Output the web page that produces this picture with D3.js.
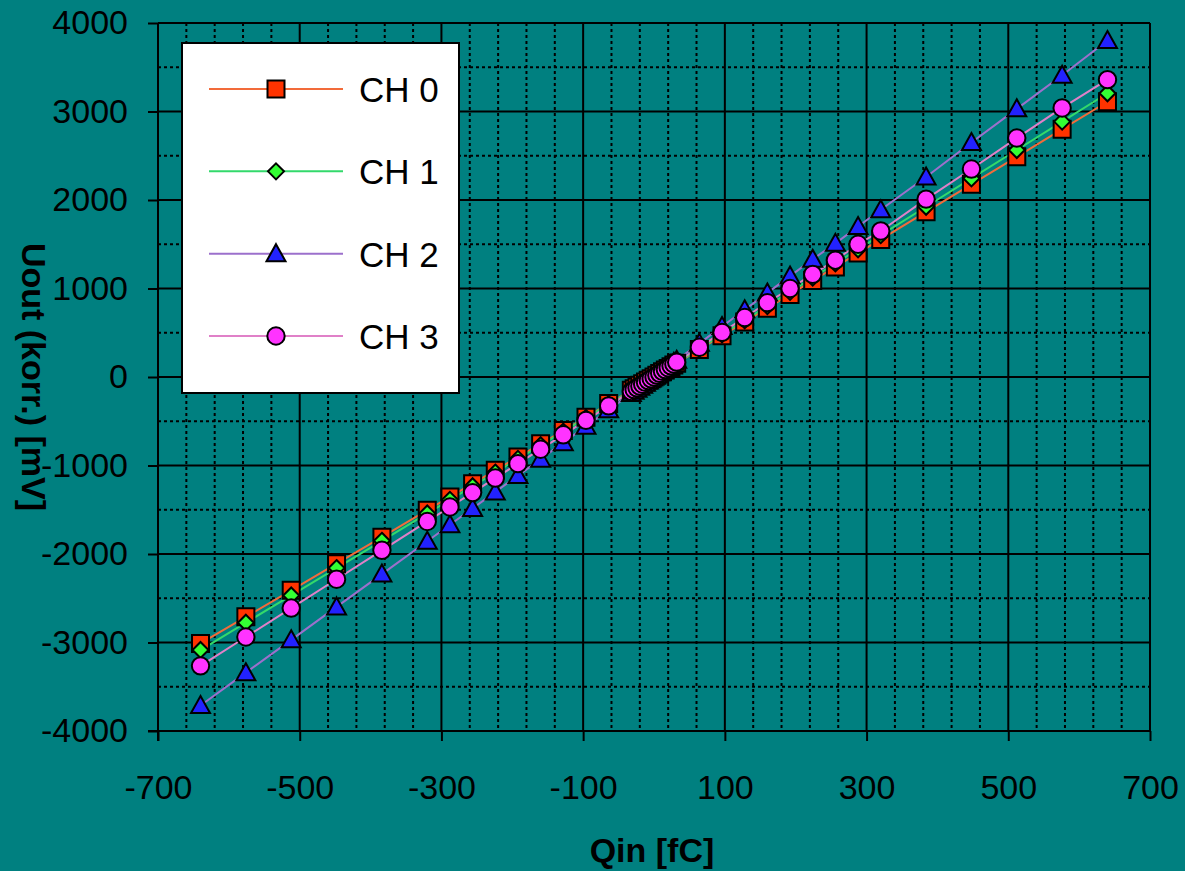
<!DOCTYPE html>
<html>
<head>
<meta charset="utf-8">
<script src="https://cdn.jsdelivr.net/npm/d3@7"></script>
<style>
  html, body { margin: 0; padding: 0; background: #008080; }
  svg { display: block; }
  text { font-family: "Liberation Sans", Arial, sans-serif; fill: #000; }
</style>
</head>
<body>
<svg id="chart" width="1185" height="871"></svg>
<script>
// ---------- data ----------
const qin = [-640,-576,-512,-448,-384,-320,-288,-256,-224,-192,-160,-128,-96,-64,
  -32,-28,-24,-20,-16,-12,-8,-4,0,4,8,12,16,20,24,28,32,
  64,96,128,160,192,224,256,288,320,384,448,512,576,640];

const ch0 = [-3010,-2710,-2410,-2110,-1810,-1505,-1355,-1205,-1055,-905,-755,-605,-455,-300,
  -150,-132,-113,-94,-75,-56,-38,-19,0,19,39,58,78,97,117,136,155,
  311,466,622,778,933,1089,1244,1400,1555,1866,2177,2488,2800,3110];

const ch1 = [-3085,-2776,-2468,-2159,-1851,-1542,-1388,-1234,-1080,-925,-771,-617,-463,-308,
  -154,-135,-116,-96,-77,-58,-39,-19,0,20,40,60,80,100,120,140,160,
  321,481,641,802,962,1122,1283,1443,1603,1924,2244,2565,2886,3206];

const ch2 = [-3712,-3341,-2970,-2598,-2227,-1856,-1670,-1485,-1299,-1114,-928,-742,-557,-371,
  -186,-162,-139,-116,-93,-70,-46,-23,0,24,48,71,95,119,143,166,190,
  380,570,760,950,1140,1331,1510,1700,1890,2260,2650,3030,3410,3802];

const ch3 = [-3264,-2938,-2611,-2285,-1958,-1632,-1469,-1306,-1142,-979,-816,-653,-490,-326,
  -163,-143,-122,-102,-82,-61,-41,-20,0,21,42,63,84,105,126,147,168,
  336,504,672,840,1000,1160,1320,1500,1650,2010,2350,2700,3040,3360];

const seriesNames = ["CH 0", "CH 1", "CH 2", "CH 3"];
const xTicks = [-700,-500,-300,-100,100,300,500,700];
const yTicks = [-4000,-3000,-2000,-1000,0,1000,2000,3000,4000];
const xMinor = d3.range(-660, 700, 40).filter(v => (v + 700) % 200 !== 0);
const yMinor = [-3500,-2500,-1500,-500,500,1500,2500,3500];
const xTitle = "Qin [fC]";
const yTitle = "Uout (korr.) [mV]";

// ---------- styles ----------
const styles = [
  { line: "#F26B3A", fill: "#FF3300", shape: "square" },
  { line: "#33D96B", fill: "#33FF33", shape: "diamond" },
  { line: "#9C70CC", fill: "#2222FF", shape: "triangle" },
  { line: "#E080C8", fill: "#FF33FF", shape: "circle" }
];
const seriesData = [ch0, ch1, ch2, ch3];

const svg = d3.select("#chart");
svg.append("rect").attr("width", 1185).attr("height", 871).attr("fill", "#008080");

const x = d3.scaleLinear().domain([-700, 700]).range([158, 1150]);
const y = d3.scaleLinear().domain([-4000, 4000]).range([731, 23]);

// minor grid (dotted)
const grid = svg.append("g");
grid.selectAll("line.xm").data(xMinor).enter().append("line")
  .attr("x1", d => x(d)).attr("x2", d => x(d)).attr("y1", y(4000)).attr("y2", y(-4000))
  .attr("stroke", "#000").attr("stroke-width", 2).attr("stroke-dasharray", "3,3");
grid.selectAll("line.ym").data(yMinor).enter().append("line")
  .attr("y1", d => y(d)).attr("y2", d => y(d)).attr("x1", x(-700)).attr("x2", x(700))
  .attr("stroke", "#000").attr("stroke-width", 2).attr("stroke-dasharray", "3,3");
// major grid (solid)
grid.selectAll("line.xM").data(xTicks).enter().append("line")
  .attr("x1", d => x(d)).attr("x2", d => x(d)).attr("y1", y(4000)).attr("y2", y(-4000))
  .attr("stroke", "#000").attr("stroke-width", 2);
grid.selectAll("line.yM").data(yTicks).enter().append("line")
  .attr("y1", d => y(d)).attr("y2", d => y(d)).attr("x1", x(-700)).attr("x2", x(700))
  .attr("stroke", "#000").attr("stroke-width", 2);

// axes
const fmt = d => String(d);
const xAxis = svg.append("g").attr("transform", `translate(0,${y(-4000)})`)
  .call(d3.axisBottom(x).tickValues(xTicks).tickFormat(fmt).tickSize(10).tickPadding(34).tickSizeOuter(0));
const yAxis = svg.append("g").attr("transform", `translate(${x(-700)},0)`)
  .call(d3.axisLeft(y).tickValues(yTicks).tickFormat(fmt).tickSize(10).tickPadding(20).tickSizeOuter(0));
[xAxis, yAxis].forEach(a => {
  a.select(".domain").attr("stroke", "#000").attr("stroke-width", 2);
  a.selectAll(".tick line").attr("stroke", "#000").attr("stroke-width", 2);
  a.selectAll(".tick text").attr("font-size", 34).attr("fill", "#000")
    .attr("font-family", "'Liberation Sans', Arial, sans-serif");
});
xAxis.select(".domain").attr("d", `M${x(-700) - 10},0H${x(700)}`);
yAxis.select(".domain").attr("d", `M0,${y(-4000) + 10}V${y(4000)}`);

// titles
svg.append("text").attr("x", x(0) - 2).attr("y", 862).attr("text-anchor", "middle")
  .attr("font-size", 34).attr("font-weight", "bold").text(xTitle);
svg.append("text").attr("transform", `translate(22,${y(0)}) rotate(90)`)
  .attr("text-anchor", "middle").attr("font-size", 34).attr("font-weight", "bold").text(yTitle);

// marker generator
function markerPath(shape) {
  switch (shape) {
    case "square": return "M-8.5,-8.5H8.5V8.5H-8.5Z";
    case "diamond": return "M0,-8L8,0L0,8L-8,0Z";
    case "triangle": return "M0,-9.5L9.5,7.5H-9.5Z";
    default: return d3.symbol(d3.symbolCircle, Math.PI * 8.7 * 8.7)();
  }
}

// lines
const line = d3.line().x((d, i) => x(qin[i])).y(d => y(d));
const plot = svg.append("g");
seriesData.forEach((vals, s) => {
  plot.append("path").datum(vals).attr("d", line).attr("fill", "none")
    .attr("stroke", styles[s].line).attr("stroke-width", 2);
});
// markers
seriesData.forEach((vals, s) => {
  plot.append("g").selectAll("path").data(vals).enter().append("path")
    .attr("transform", (d, i) => `translate(${x(qin[i])},${y(d)})`)
    .attr("d", markerPath(styles[s].shape))
    .attr("fill", styles[s].fill).attr("stroke", "#000").attr("stroke-width", 2)
    .attr("stroke-linejoin", "miter");
});

// legend
const leg = svg.append("g");
leg.append("rect").attr("x", 182).attr("y", 43).attr("width", 277).attr("height", 350)
  .attr("fill", "#fff").attr("stroke", "#000").attr("stroke-width", 2);
const legY = d3.scalePoint().domain(seriesNames).range([89, 336]);
seriesNames.forEach((name, s) => {
  const ly = legY(name);
  leg.append("line").attr("x1", 209).attr("x2", 343).attr("y1", ly).attr("y2", ly)
    .attr("stroke", styles[s].line).attr("stroke-width", 2);
  leg.append("path").attr("transform", `translate(276,${ly})`)
    .attr("d", markerPath(styles[s].shape)).attr("fill", styles[s].fill)
    .attr("stroke", "#000").attr("stroke-width", 2);
  leg.append("text").attr("x", 359).attr("y", ly + 13).attr("font-size", 35).text(name);
});
</script>
</body>
</html>
